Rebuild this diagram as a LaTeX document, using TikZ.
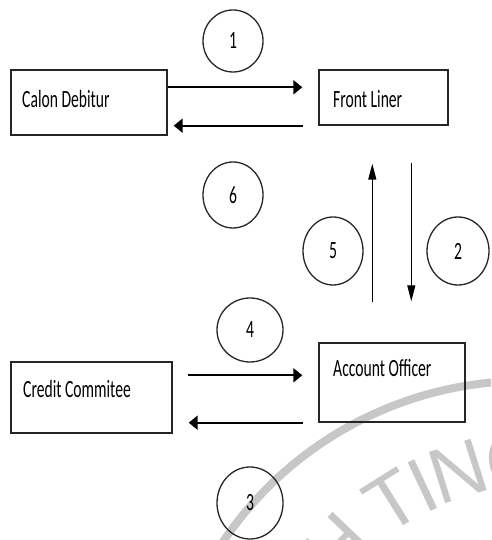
\documentclass[tikz,border=0pt]{standalone}
\usepackage{fontspec}
\usepackage{graphicx}
\setmainfont{Carlito}
\newfontfamily\boxfont{Carlito}
\newfontfamily\wmfont{Liberation Sans}
\newcommand\sqz[1]{\scalebox{0.63}[1]{#1}}
\usetikzlibrary{arrows.meta,calc,shapes.geometric}

\begin{document}
\begin{tikzpicture}[x=1pt,y=1pt,
  box/.style 2 args={draw=black!85, line width=1.4pt, rectangle, inner sep=0pt,
    minimum width=#1, minimum height=#2},
  lbl/.style={font=\boxfont\fontsize{24.8}{28}\selectfont, anchor=base west, inner sep=0pt},
  num/.style 2 args={draw=black!85, line width=1.3pt, ellipse, inner sep=0pt,
    minimum width=#1, minimum height=#2, font=\boxfont\fontsize{24.8}{28}\selectfont},
  harr/.style={line width=2pt, -{Triangle[length=9pt,width=14pt]}},
  varr/.style={line width=1.2pt, -{Triangle[length=16pt,width=8pt]}},
  wm/.style={text=black!22, font=\wmfont\fontsize{78}{80}\selectfont, inner sep=0pt}]

\useasboundingbox (0,0) rectangle (491,540);

% watermark
\begin{scope}
  \clip (0,0) rectangle (491,540);
  \draw[black!22, line width=8pt] (525,-205) ++(150:364) arc[start angle=150, end angle=75, radius=364];
  \foreach \ch/\a in {H/136.4, T/122, I/115.2, N/107.5, G/95.9}
    \node[wm, rotate=\a-90] (wm\ch) at ($(545,-205)+(\a:287)$) {\ch};
\end{scope}

% boxes
\node[box={156}{65}] (cd) at (89,437.5) {};
\node[box={129}{55}] (fl) at (383.5,442.5) {};
\node[box={161}{71}] (cc) at (91.5,142.5) {};
\node[box={146}{79}] (ao) at (392,157.5) {};

\node[lbl] (tcd) at (22,432) {\sqz{Calon Debitur}};
\node[lbl] (tfl) at (333,432) {\sqz{Front Liner}};
\node[lbl] (tcc) at (23,142) {\sqz{Credit Commitee}};
\node[lbl] (tao) at (333,163) {\sqz{Account Officer}};

% numbered ellipses
\node[num={60}{62}] (n1) at (233,499) {\raisebox{-4pt}{\sqz{1}}};
\node[num={60}{66}] (n6) at (233,345) {\raisebox{-4pt}{\sqz{6}}};
\node[num={60}{68}] (n5) at (333,289) {\raisebox{-4pt}{\sqz{5}}};
\node[num={62}{68}] (n2) at (458,289) {\raisebox{-4pt}{\sqz{2}}};
\node[num={66}{64}] (n4) at (250,210) {\raisebox{-4pt}{\sqz{4}}};
\node[num={66}{72}] (n3) at (250,37) {\raisebox{-4pt}{\sqz{3}}};

% arrows
\draw[harr] ($(cd.north east)+(0,-18)$) -- ($(fl.north west)+(-16,-18)$);
\draw[harr] ($(fl.south west)+(-15,0)$) -- ($(cd.south east)+(6,10)$);
\draw[varr] ($(ao.north west)+(54,40)$) -- ($(fl.south west)+(54,-38)$);
\draw[varr] ($(fl.south west)+(93,-37)$) -- ($(ao.north west)+(93,41)$);
\draw[harr] ($(cc.north east)+(15,-14)$) -- ($(ao.north west)+(-16,-33)$);
\draw[harr] ($(ao.south west)+(-15,0)$) -- ($(cc.south east)+(16,11)$);
\end{tikzpicture}
\end{document}
